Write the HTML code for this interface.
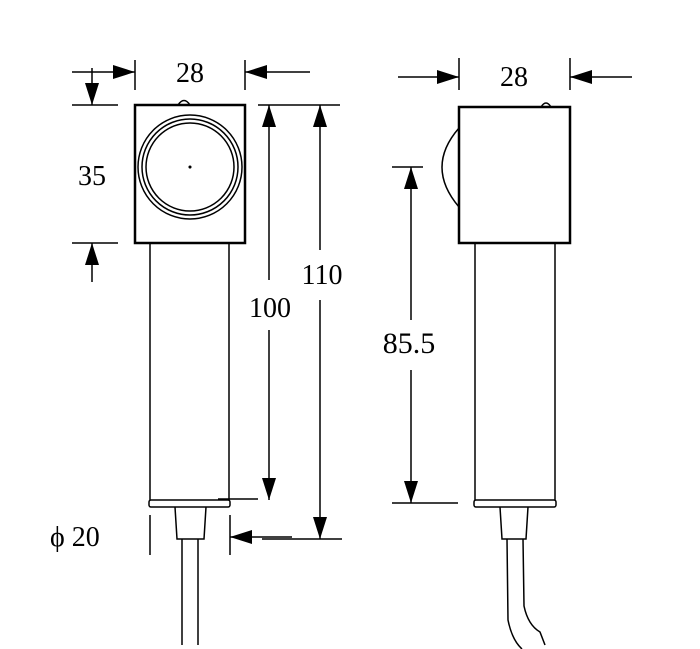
<!DOCTYPE html>
<html><head><style>body{margin:0;background:#fff}svg{display:block}</style></head><body>
<svg width="700" height="649" viewBox="0 0 700 649" xmlns="http://www.w3.org/2000/svg" font-family="Liberation Serif, serif" font-size="28" fill="none" stroke="#000" stroke-width="1.5">
<defs>
<marker id="a" markerWidth="22" markerHeight="14" refX="22" refY="7" orient="auto" markerUnits="userSpaceOnUse"><path d="M0,0L22,7L0,14Z" fill="#000" stroke="none"/></marker>
</defs>
<rect x="135" y="105" width="110" height="138" stroke-width="2.5"/>
<path d="M178,105 Q184,96 190,105" />
<circle cx="190" cy="167" r="52"/>
<circle cx="190" cy="167" r="48"/>
<circle cx="190" cy="167" r="44"/>
<circle cx="190" cy="167" r="0.8" fill="#000"/>
<path d="M150,243V500M229,243V500"/>
<rect x="149" y="500" width="81" height="7" rx="2"/>
<path d="M175,507L177,539H204L206,507"/>
<path d="M182,539V645M198,539V645"/>
<path d="M135,60V90M245,60V90"/>
<path d="M72,72H135" marker-end="url(#a)"/>
<path d="M310,72H245" marker-end="url(#a)"/>
<path d="M72,105H118M72,243H118"/>
<path d="M92,68V105" marker-end="url(#a)"/>
<path d="M92,282V243" marker-end="url(#a)"/>
<path d="M258,105H340"/>
<path d="M269,280V105" marker-end="url(#a)"/>
<path d="M269,330V500" marker-end="url(#a)"/>
<path d="M218,499H258"/>
<path d="M320,250V105" marker-end="url(#a)"/>
<path d="M320,300V539" marker-end="url(#a)"/>
<path d="M262,539H342"/>
<path d="M150,515V555M230,515V555"/>
<path d="M292,537H230" marker-end="url(#a)"/>
<rect x="459" y="107" width="111" height="136" stroke-width="2.5"/>
<path d="M541,107 Q546,99 551,107"/>
<path d="M459,128 Q425,167 459,207"/>
<path d="M475,243V500M555,243V500"/>
<rect x="474" y="500" width="82" height="7" rx="2"/>
<path d="M500,507L502,539H526L528,507"/>
<path d="M507,539 L508,620 Q512,640 522,649 M523,539 L524,606 Q528,625 540,632 L545,645"/>
<path d="M459,58V90M570,58V90"/>
<path d="M398,77H459" marker-end="url(#a)"/>
<path d="M632,77H570" marker-end="url(#a)"/>
<path d="M392,167H423M392,503H458"/>
<path d="M411,320V167" marker-end="url(#a)"/>
<path d="M411,370V503" marker-end="url(#a)"/>
<g fill="#000" stroke="none">
<text x="190" y="82" text-anchor="middle">28</text>
<text x="514" y="86" text-anchor="middle">28</text>
<text x="92" y="185" text-anchor="middle">35</text>
<text x="270" y="317" text-anchor="middle">100</text>
<text x="322" y="284" text-anchor="middle">110</text>
<text x="409" y="353" text-anchor="middle" font-size="30">85.5</text>
<text x="50" y="546">ϕ 20</text>
</g>
</svg>
</body></html>
